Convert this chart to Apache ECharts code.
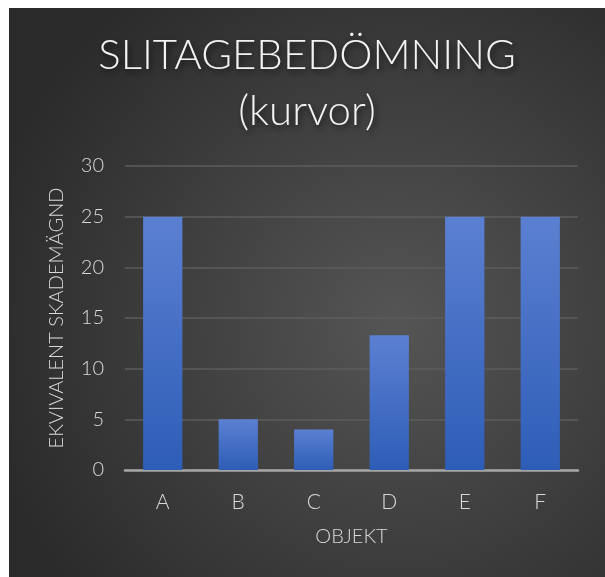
<!DOCTYPE html>
<html>
<head>
<meta charset="utf-8">
<script src="https://cdn.jsdelivr.net/npm/echarts@6/dist/echarts.min.js"></script>
<style>
  html, body { margin: 0; padding: 0; background: #ffffff; }
  #chart { position: absolute; left: 9px; top: 8px; width: 596px; height: 569px; }
</style>
</head>
<body>
<div id="chart"></div>
<script>
// data
const categories = ['A', 'B', 'C', 'D', 'E', 'F'];
const values = [25, 5, 4, 13.3, 25, 25];
const yTicks = { min: 0, max: 30, interval: 5 };

const font = 'Lato, "Open Sans", sans-serif';
const myChart = echarts.init(document.getElementById('chart'));

const option = {
  backgroundColor: {
    type: 'radial', x: 0.65, y: 0.55, r: 0.75,
    colorStops: [
      { offset: 0, color: '#555555' },
      { offset: 1, color: '#2a2a2a' }
    ]
  },
  title: {
    text: 'SLITAGEBEDÖMNING\n(kurvor)',
    left: 'center',
    top: 14,
    textStyle: {
      color: '#f2f2f2',
      fontFamily: font,
      fontWeight: 300,
      fontSize: 42,
      lineHeight: 56,
      textShadowColor: 'rgba(0,0,0,0.7)',
      textShadowBlur: 6,
      textShadowOffsetX: 2,
      textShadowOffsetY: 3
    }
  },
  grid: { left: 116, right: 27, top: 158, bottom: 107 },
  xAxis: {
    type: 'category',
    data: categories,
    name: 'OBJEKT',
    nameLocation: 'middle',
    nameGap: 57,
    nameTextStyle: { color: '#d9d9d9', fontFamily: font, fontWeight: 300, fontSize: 20 },
    axisLine: { lineStyle: { color: '#a6a6a6', width: 2.5 } },
    axisTick: { show: false },
    axisLabel: { color: '#d9d9d9', fontFamily: font, fontWeight: 300, fontSize: 21, margin: 22 }
  },
  yAxis: {
    type: 'value',
    min: yTicks.min,
    max: yTicks.max,
    interval: yTicks.interval,
    name: 'EKVIVALENT SKADEMÄGND',
    nameLocation: 'middle',
    nameGap: 58,
    nameTextStyle: { color: '#d9d9d9', fontFamily: font, fontWeight: 300, fontSize: 20 },
    axisLine: { show: false },
    axisTick: { show: false },
    axisLabel: { color: '#d9d9d9', fontFamily: font, fontWeight: 300, fontSize: 20, margin: 21 },
    splitLine: { lineStyle: { color: '#5c5c5c', width: 1.5 } }
  },
  series: [{
    type: 'bar',
    data: values,
    barWidth: '52%',
    itemStyle: {
      color: {
        type: 'linear', x: 0, y: 0, x2: 0, y2: 1,
        colorStops: [
          { offset: 0, color: '#5b80d1' },
          { offset: 1, color: '#2e5db7' }
        ]
      },
      shadowColor: 'rgba(0,0,0,0.55)',
      shadowBlur: 8,
      shadowOffsetX: 1,
      shadowOffsetY: 1
    }
  }]
};

option && myChart.setOption(option);
</script>
</body>
</html>
